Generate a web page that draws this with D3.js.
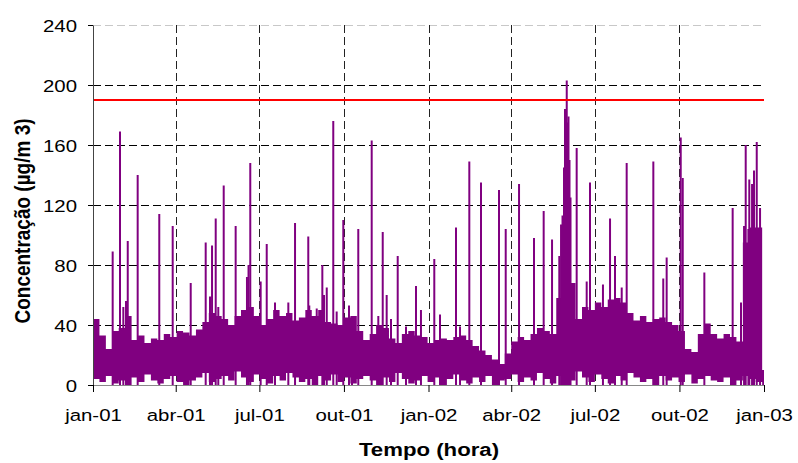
<!DOCTYPE html>
<html><head><meta charset="utf-8">
<script src="https://cdn.jsdelivr.net/npm/d3@7"></script>
<style>
html,body{margin:0;padding:0;background:#fff;}
svg{display:block;font-family:"Liberation Sans",Arial,sans-serif;}
</style></head>
<body>
<svg id="chart" width="798" height="463"></svg>
<script>
// ---- data ----
const startDate = Date.UTC(2001, 0, 1);
const endDate = Date.UTC(2003, 0, 1);
const xTickLabels = ["jan-01","abr-01","jul-01","out-01","jan-02","abr-02","jul-02","out-02","jan-03"];
const yTicks = [0, 40, 80, 120, 160, 200, 240];
const limitValue = 190;
// weekly envelope of the dense hourly band (µg/m3), week 0 starts 2001-01-01
const bandHigh = [44,33,24,36,38,46,30,33,28,31,
  30,34,32,36,35,33,37,42,48,46,
  44,40,46,50,52,46,40,44,50,46,
  48,43,45,50,46,50,42,41,40,45,
  46,36,30,34,40,38,31,28,34,36,
  33,32,28,30,31,30,32,33,30,26,
  23,20,17,14,21,29,32,30,34,38,
  36,34,58,105,68,44,52,50,55,52,
  57,58,55,48,43,46,42,44,45,42,
  40,36,24,22,34,41,34,31,34,32,
  29,95,105,105,10];
const bandLow = [4,2,6,1,3,0,5,2,7,3,
  1,4,6,2,0,3,5,8,2,4,
  6,3,9,5,2,7,4,1,6,3,
  8,5,2,4,0,6,3,7,2,5,
  1,4,6,3,0,5,2,8,4,1,
  3,6,2,5,0,4,7,3,1,5,
  2,6,0,3,4,7,2,5,3,8,
  4,1,6,2,3,9,5,2,7,4,
  1,6,3,8,5,2,4,0,6,3,
  5,2,7,1,4,6,3,2,5,0,
  3,6,4,2,0];
// hourly peaks: day offset from 2001-01-01 and value
const peakDay = [21.4,29.4,33.0,35.9,37.8,48.6,72.1,86.7,106.3,122.6,
  127.3,129.5,133.5,136.3,142.2,155.2,167.5,169.2,171.1,182.4,
  189.0,198.0,212.5,219.8,234.2,235.3,243.4,249.5,251.3,254.3,
  261.4,265.1,272.3,278.5,281.8,288.6,303.2,310.4,315.2,319.5,
  324.2,331.5,340.5,351.4,356.8,371.3,377.5,394.9,399.3,409.4,
  422.1,441.7,449.0,463.5,479.8,490.3,499.4,507.3,509.2,510.8,
  512.4,513.5,515.4,516.3,517.3,518.4,519.5,526.2,537.1,540.7,
  554.8,562.5,567.9,575.2,580.6,609.6,620.4,624.1,639.4,641.6,
  665.1,695.9,705.0,708.3,710.1,713.0,714.0,717.0,719.1,722.1,725.7];
const peakValue = [89,169,52,56,96,140,114,106,68,95,
  59,93,111,52,133,106,72,80,148,69,
  94,55,55,108,99,53,51,80,60,65,
  176,49,110,53,45,104,163,46,102,60,
  44,86,39,66,50,84,47,105,39,149,
  135,130,104,134,98,116,97,86,107,113,
  145,184,203,175,179,150,125,158,69,135,
  67,111,86,65,148,149,71,85,165,138,
  75,118,55,106,160,104,137,134,143,162,118];

// ---- chart ----
const svg = d3.select("#chart");
const dayMs = 864e5;
const x = d3.scaleUtc().domain([new Date(startDate), new Date(endDate)]).range([93, 764]);
const y = d3.scaleLinear().domain([0, 240]).range([385, 25]);
const tickDates = d3.utcMonth.every(3).range(new Date(startDate), new Date(endDate + 1));

// grid
const grid = svg.append("g");
grid.selectAll("line.h").data(yTicks.filter(v => v > 0)).join("line")
  .attr("x1", 93).attr("x2", 764)
  .attr("y1", d => y(d) + 0.5).attr("y2", d => y(d) + 0.5)
  .attr("stroke", d => d === 240 ? "#c8c8c8" : "#000")
  .attr("stroke-width", 1).attr("stroke-dasharray", "8,4");
grid.selectAll("line.v").data(tickDates.slice(1, -1)).join("line")
  .attr("x1", d => Math.round(x(d)) + 0.5).attr("x2", d => Math.round(x(d)) + 0.5)
  .attr("y1", y(240)).attr("y2", y(0))
  .attr("stroke", "#222").attr("stroke-width", 1).attr("stroke-dasharray", "8,4");

// dense band
const bandData = bandHigh.map((h, i) => ({
  t: new Date(Math.min(startDate + i * 7 * dayMs, endDate)), hi: h, lo: bandLow[i]
}));
bandData.push({t: new Date(endDate), hi: bandHigh[bandHigh.length - 1], lo: bandLow[bandLow.length - 1]});
const area = d3.area().curve(d3.curveStepAfter)
  .x(d => x(d.t)).y0(d => y(d.lo)).y1(d => y(d.hi));
svg.append("path").datum(bandData).attr("d", area).attr("fill", "#800080");

// peaks
const peakLine = d3.line().x(d => x(d[0])).y(d => y(d[1]));
svg.append("g").selectAll("path").data(peakDay.map((d, i) => [
  [new Date(startDate + d * dayMs), 0], [new Date(startDate + d * dayMs), peakValue[i]]
])).join("path")
  .attr("d", peakLine).attr("stroke", "#800080").attr("stroke-width", 2).attr("fill", "none");

// limit line
svg.append("line").attr("x1", 93).attr("x2", 764)
  .attr("y1", y(limitValue)).attr("y2", y(limitValue))
  .attr("stroke", "#ff0000").attr("stroke-width", 2);

// axes
const yAxis = svg.append("g").attr("transform", "translate(93,0)")
  .call(d3.axisLeft(y).tickValues(yTicks).tickSize(5).tickPadding(8.3).tickSizeOuter(0));
yAxis.select(".domain").attr("stroke", "#444");
yAxis.selectAll(".tick line").attr("stroke", "#000");
yAxis.selectAll(".tick text").attr("font-size", 17).attr("fill", "#000")
  .attr("font-family", "Liberation Sans, Arial, sans-serif")
  .attr("transform", "scale(1.2,1)").attr("dy", "0.36em");

const xAxis = svg.append("g").attr("transform", "translate(0,385)")
  .call(d3.axisBottom(x).tickValues(tickDates).tickFormat((d, i) => xTickLabels[i])
    .tickSize(7).tickPadding(17).tickSizeOuter(0));
xAxis.select(".domain").attr("stroke", "#888");
xAxis.selectAll(".tick line").attr("stroke", "#000");
xAxis.selectAll(".tick text").attr("font-size", 17).attr("fill", "#000")
  .attr("font-family", "Liberation Sans, Arial, sans-serif")
  .attr("transform", "scale(1.2,1)");

// titles
svg.append("text").attr("transform", "translate(429,456) scale(1.2,1)")
  .attr("text-anchor", "middle").attr("font-weight", "bold").attr("font-size", 18.5)
  .text("Tempo (hora)");
svg.append("text").attr("transform", "translate(30,221) rotate(-90) scale(1,1.2)")
  .attr("text-anchor", "middle").attr("font-weight", "bold").attr("font-size", 19)
  .text("Concentração (µg/m 3)");
</script>
</body></html>
